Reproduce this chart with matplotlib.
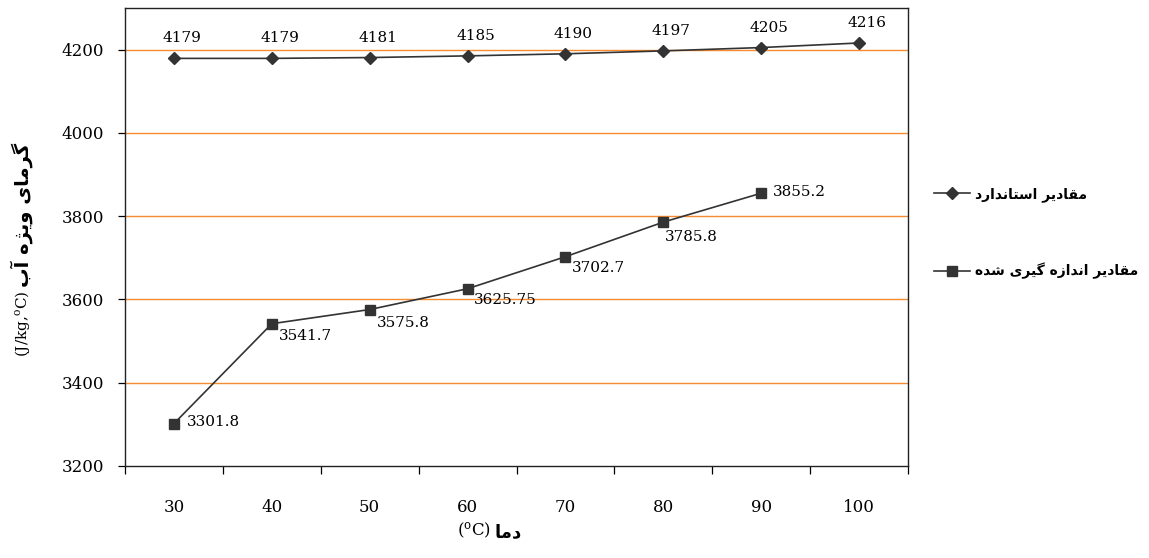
import matplotlib
matplotlib.use("Agg")
import matplotlib.pyplot as plt
from matplotlib.lines import Line2D
import numpy as np

# temperature categories and the two specific-heat series
temps = ["30", "40", "50", "60", "70", "80", "90", "100"]
standard = [4179, 4179, 4181, 4185, 4190, 4197, 4205, 4216]
measured = [3301.8, 3541.7, 3575.8, 3625.75, 3702.7, 3785.8, 3855.2]
measured_text = ["3301.8", "3541.7", "3575.8", "3625.75", "3702.7", "3785.8", "3855.2"]
yticks = [3200, 3400, 3600, 3800, 4000, 4200]

label_standard = "مقادیر استاندارد"
label_measured = "مقادیر اندازه گیری شده"
ylabel_fa = "گرمای ویژه آب"
xlabel_fa = "دما"

# presentation forms: isolated, final, initial, medial (None = does not join forward)
FORMS = {
    "ا": ("\uFE8D", "\uFE8E", None, None),
    "آ": ("\uFE81", "\uFE82", None, None),
    "ب": ("\uFE8F", "\uFE90", "\uFE91", "\uFE92"),
    "ت": ("\uFE95", "\uFE96", "\uFE97", "\uFE98"),
    "د": ("\uFEA9", "\uFEAA", None, None),
    "ر": ("\uFEAD", "\uFEAE", None, None),
    "ز": ("\uFEAF", "\uFEB0", None, None),
    "ژ": ("\uFB8A", "\uFB8B", None, None),
    "س": ("\uFEB1", "\uFEB2", "\uFEB3", "\uFEB4"),
    "ش": ("\uFEB5", "\uFEB6", "\uFEB7", "\uFEB8"),
    "ق": ("\uFED5", "\uFED6", "\uFED7", "\uFED8"),
    "گ": ("\uFB92", "\uFB93", "\uFB94", "\uFB95"),
    "م": ("\uFEE1", "\uFEE2", "\uFEE3", "\uFEE4"),
    "ن": ("\uFEE5", "\uFEE6", "\uFEE7", "\uFEE8"),
    "ه": ("\uFEE9", "\uFEEA", "\uFEEB", "\uFEEC"),
    "و": ("\uFEED", "\uFEEE", None, None),
    "\u06cc": ("\uFBFC", "\uFBFD", "\uFBFE", "\uFBFF"),
    "\u064a": ("\uFBFC", "\uFBFD", "\uFBFE", "\uFBFF"),
}


def shape(s):
    # join letters and flip to visual order (matplotlib has no bidi support)
    out = []
    for i, c in enumerate(s):
        if c not in FORMS:
            out.append(c)
            continue
        prev = s[i - 1] if i > 0 else ""
        nxt = s[i + 1] if i + 1 < len(s) else ""
        joins_prev = prev in FORMS and FORMS[prev][2] is not None
        joins_next = nxt in FORMS and FORMS[c][2] is not None
        iso, fin, ini, med = FORMS[c]
        if joins_prev and joins_next:
            out.append(med)
        elif joins_prev:
            out.append(fin)
        elif joins_next:
            out.append(ini)
        else:
            out.append(iso)
    return "".join(reversed(out))


plt.rcParams["font.family"] = "DejaVu Serif"
plt.rcParams["mathtext.fontset"] = "dejavuserif"

W, H = 1149, 558
fig = plt.figure(figsize=(W / 100, H / 100), dpi=100)
ax = fig.add_axes([125 / W, (H - 466) / H, 783 / W, 458 / H])

x = np.arange(len(temps))
grid_c = "#F68B2F"
for v in yticks[1:]:
    ax.axhline(v, color=grid_c, lw=1.0, zorder=1)

ax.plot(x, standard, color="#333333", lw=1.2, marker="D", ms=6, zorder=3)
ax.plot(x[:len(measured)], measured, color="#333333", lw=1.2, marker="s", ms=7.5, zorder=3)

# value labels (pixel offsets converted to points)
for xi, v in zip(x, standard):
    ax.annotate(str(v), (xi, v), xytext=(8 * 0.72, 20 * 0.72), textcoords="offset points",
                ha="center", va="center", fontsize=11)

offs = [(13, 2), (7, -12), (7, -13), (6, -11), (6, -11), (2, -15), (12, 1)]
for xi, v, t, (dx, dy) in zip(x, measured, measured_text, offs):
    ax.annotate(t, (xi, v), xytext=(dx * 0.72, dy * 0.72), textcoords="offset points",
                ha="left", va="center", fontsize=11)

ax.set_xlim(-0.5, len(temps) - 0.5)
ax.set_ylim(3200, 4300)
ax.set_yticks(yticks)
ax.set_yticklabels([str(v) for v in yticks], fontsize=12)
ax.set_xticks(np.arange(-0.5, len(temps)), minor=False)
ax.set_xticklabels([])
ax.set_xticks(x, minor=True)
ax.set_xticklabels(temps, minor=True, fontsize=12)
ax.tick_params(axis="x", which="major", direction="out", length=5.5, width=0.9)
ax.tick_params(axis="x", which="minor", length=0, pad=24)
ax.tick_params(axis="y", direction="out", length=5, width=0.9, pad=10)
for sp in ax.spines.values():
    sp.set_color("#222222")
    sp.set_linewidth(1.0)

# axis titles: latin unit part in serif, persian part in bold sans
ax.text(-0.1315, (466 - 291) / 458, "(J/kg,$^{\\rm o}$C)", rotation=90, ha="center", va="top",
        fontsize=11, transform=ax.transAxes)
ax.text(-0.1315, (466 - 287) / 458, shape(ylabel_fa), rotation=90, ha="center", va="bottom",
        fontsize=14, fontweight="bold", family="DejaVu Sans", transform=ax.transAxes)
ax.text((491 - 125) / 783, (466 - 530) / 458, "($^{\\rm o}$C)", ha="right", va="center",
        fontsize=12, transform=ax.transAxes)
ax.text((495 - 125) / 783, (466 - 532) / 458, shape(xlabel_fa), ha="left", va="center",
        fontsize=13, fontweight="bold", family="DejaVu Sans", transform=ax.transAxes)

handles = [
    Line2D([], [], color="#333333", lw=1.2, marker="D", ms=6),
    Line2D([], [], color="#333333", lw=1.2, marker="s", ms=7.5),
]
fig.legend(handles, [shape(label_standard), shape(label_measured)],
           loc="center left", bbox_to_anchor=(921 / W, (H - 233) / H),
           frameon=False, handlelength=2.6, handletextpad=0.4, labelspacing=4.4,
           prop={"family": "DejaVu Sans", "weight": "bold", "size": 10})

fig.savefig("out.png", dpi=100)
